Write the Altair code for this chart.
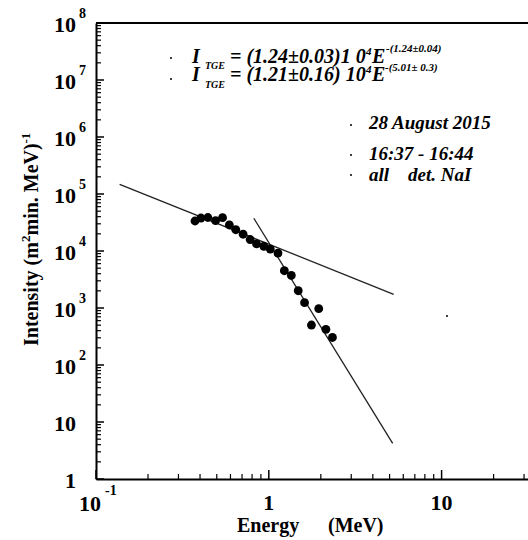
import altair as alt
import pandas as pd

# Measured TGE differential energy spectrum (NaI detectors)
energy = [0.374, 0.405, 0.444, 0.492, 0.540, 0.591, 0.644, 0.710, 0.780, 0.849,
          0.936, 1.02, 1.13, 1.23, 1.35, 1.48, 1.61, 1.765, 1.945, 2.14, 2.335]
intensity = [3.36e4, 3.79e4, 3.87e4, 3.40e4, 3.84e4, 2.86e4, 2.36e4, 1.97e4, 1.59e4, 1.33e4,
             1.21e4, 1.08e4, 9.2e3, 4.51e3, 3.72e3, 2.01e3, 1.24e3, 503, 972, 423, 304]

# Power-law fit segments (end points)
fit_soft_energy = [0.137, 5.28]
fit_soft_intensity = [1.48e5, 1.74e3]
fit_hard_energy = [0.819, 5.21]
fit_hard_intensity = [3.75e4, 4.23]

# Axis ticks
x_major = [0.1, 1, 10]
x_minor = [k * 0.1 for k in range(2, 10)] + list(range(2, 10)) + [20, 30]
y_major = [10 ** d for d in range(0, 9)]
y_minor = [k * 10 ** d for d in range(0, 8) for k in range(2, 10)]

x_label_values = [1, 10]
x_label_text = ["1", "10"]
y_label_base = ["1", "10"] + ["10"] * 7
y_label_exp = ["", ""] + [str(d) for d in range(2, 9)]

W, H = 432, 456
SERIF = "Liberation Serif"

xs = alt.Scale(type="log", domain=[0.1, 10 ** 1.5], nice=False)
ys = alt.Scale(type="log", domain=[1, 1e8], nice=False)
x_axis = alt.Axis(labels=False, ticks=False, title=None, grid=False,
                  domainColor="black", domainWidth=2)
y_axis = alt.Axis(labels=False, ticks=False, title=None, grid=False,
                  domainColor="black", domainWidth=2)


def X(field="E"):
    return alt.X(f"{field}:Q", scale=xs, axis=x_axis)


def Y(field="I"):
    return alt.Y(f"{field}:Q", scale=ys, axis=y_axis)


points_df = pd.DataFrame({"E": energy, "I": intensity})
soft_df = pd.DataFrame({"E": fit_soft_energy, "I": fit_soft_intensity})
hard_df = pd.DataFrame({"E": fit_hard_energy, "I": fit_hard_intensity})

points = alt.Chart(points_df).mark_circle(size=78, color="black", opacity=1).encode(x=X(), y=Y())
soft = alt.Chart(soft_df).mark_line(color="#222", strokeWidth=1.3).encode(x=X(), y=Y())
hard = alt.Chart(hard_df).mark_line(color="#222", strokeWidth=1.3).encode(x=X(), y=Y())

# Inward ticks
xmaj = alt.Chart(pd.DataFrame({"E": x_major})).mark_rule(color="black", strokeWidth=1.5).encode(
    x=X(), y=alt.value(H), y2=alt.value(H - 9))
xmin = alt.Chart(pd.DataFrame({"E": x_minor})).mark_rule(color="black", strokeWidth=1.2).encode(
    x=X(), y=alt.value(H), y2=alt.value(H - 5))
ymaj = alt.Chart(pd.DataFrame({"I": y_major})).mark_rule(color="black", strokeWidth=1.5).encode(
    y=Y(), x=alt.value(0), x2=alt.value(8))
ymin = alt.Chart(pd.DataFrame({"I": y_minor})).mark_rule(color="black", strokeWidth=1.2).encode(
    y=Y(), x=alt.value(0), x2=alt.value(5))

# Top frame line
top = alt.Chart(pd.DataFrame({"E": [0.1]})).mark_rule(color="black", strokeWidth=2).encode(
    x=alt.value(0), x2=alt.value(W), y=alt.value(0))

# Tick labels
lab_font = dict(font=SERIF, fontWeight="bold", color="black")
xlab = alt.Chart(pd.DataFrame({"E": x_label_values, "t": x_label_text})).mark_text(
    fontSize=22, align="center", baseline="middle", **lab_font).encode(
    x=X(), y=alt.value(H + 24), text="t:N")
xlab_tenth = alt.Chart(pd.DataFrame({"E": [0.1], "t": ["10"]})).mark_text(
    fontSize=22, align="right", baseline="middle", dx=5, **lab_font).encode(
    x=X(), y=alt.value(H + 25), text="t:N")
xlab_tenth_exp = alt.Chart(pd.DataFrame({"E": [0.1], "t": ["-1"]})).mark_text(
    fontSize=14, align="left", baseline="middle", dx=9, **lab_font).encode(
    x=X(), y=alt.value(H + 12), text="t:N")

ylab_df = pd.DataFrame({"I": y_major, "b": y_label_base, "e": y_label_exp})
ylab = alt.Chart(ylab_df).mark_text(
    fontSize=22, align="right", baseline="middle", dy=2, **lab_font).encode(
    y=Y(), x=alt.value(-20), text="b:N")
ylab_exp = alt.Chart(ylab_df).mark_text(
    fontSize=14, align="left", baseline="middle", dy=-9, **lab_font).encode(
    y=Y(), x=alt.value(-17), text="e:N")

# Annotation text pieces (pixel positions within the plot frame)
ann_text = ["I", "TGE", "= (1.24\u00b10.03)1 0", "4", "E", "-(1.24\u00b10.04)",
            "I", "TGE", "= (1.21\u00b10.16) 10", "4", "E", "-(5.01\u00b1 0.3)",
            "28 August 2015", "16:37 - 16:44", "all", "det. NaI"]
ann_px = [96, 109, 134, 270, 276, 290,
          96, 109, 134, 270, 276, 289,
          273, 273, 273, 312]
ann_py = [40, 46, 40, 32, 40, 29,
          58, 65, 58, 50, 58, 48,
          106, 137, 158, 158]
ann_fs = [20, 10, 20, 11, 20, 11,
          20, 10, 20, 11, 20, 11,
          19, 19, 19, 19]
ann_df = pd.DataFrame({"px": ann_px, "py": ann_py, "t": ann_text, "fs": ann_fs})
ann = alt.Chart(ann_df).mark_text(
    align="left", baseline="alphabetic", font=SERIF, fontWeight="bold",
    fontStyle="italic", color="black").encode(
    x=alt.X("px:Q", scale=None), y=alt.Y("py:Q", scale=None), text="t:N",
    size=alt.Size("fs:Q", scale=None, legend=None))

dots_df = pd.DataFrame({"px": [75, 75, 255, 255, 255, 351],
                        "py": [35, 56, 102, 132, 152, 293]})
dots = alt.Chart(dots_df).mark_circle(size=4, color="black", opacity=1).encode(
    x=alt.X("px:Q", scale=None), y=alt.Y("py:Q", scale=None))

# Axis titles
xt_df = pd.DataFrame({"px": [141, 232], "py": [509, 509], "t": ["Energy", "(MeV)"]})
xtitle = alt.Chart(xt_df).mark_text(
    align="left", baseline="alphabetic", fontSize=20, **lab_font).encode(
    x=alt.X("px:Q", scale=None), y=alt.Y("py:Q", scale=None), text="t:N")

yt_df = pd.DataFrame({"px": [-58, -66, -58, -66],
                      "py": [323, 219, 212.5, 120.5],
                      "t": ["Intensity (m", "2", "min. MeV)", "-1"],
                      "fs": [20, 13, 20, 13]})
ytitle = alt.Chart(yt_df).mark_text(
    align="left", baseline="alphabetic", angle=270, **lab_font).encode(
    x=alt.X("px:Q", scale=None), y=alt.Y("py:Q", scale=None), text="t:N",
    size=alt.Size("fs:Q", scale=None, legend=None))

chart = alt.layer(
    top, xmin, xmaj, ymin, ymaj, soft, hard, points,
    xlab, xlab_tenth, xlab_tenth_exp, ylab, ylab_exp,
    ann, dots, xtitle, ytitle
).properties(
    width=W, height=H, autosize="none",
    padding={"left": 96, "top": 23, "right": 0, "bottom": 61},
    background="white"
).configure_view(stroke=None)

chart.save("out.html", embed_options={"renderer": "svg", "actions": False})
